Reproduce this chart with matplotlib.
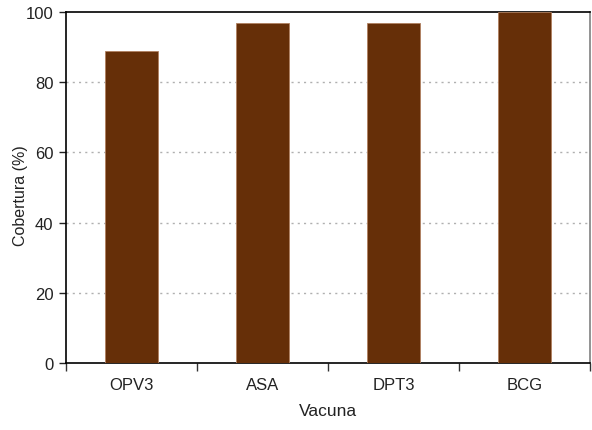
import matplotlib
matplotlib.use("Agg")
import matplotlib.pyplot as plt
from matplotlib import font_manager

categories = ["OPV3", "ASA", "DPT3", "BCG"]
values = [89, 97, 97, 100]
yticks = [0, 20, 40, 60, 80, 100]

names = {f.name for f in font_manager.fontManager.ttflist}
fam = "Liberation Sans Narrow" if "Liberation Sans Narrow" in names else "Liberation Sans"
plt.rcParams['font.family'] = [fam, 'DejaVu Sans']

fig = plt.figure(figsize=(5.92, 4.31), dpi=100)
ax = fig.add_axes([66/592, 1-364/431, (590-66)/592, (364-13)/431])

x = list(range(len(categories)))
ax.bar(x, values, width=0.4, color="#662f08", edgecolor="#b08060", linewidth=0.6, zorder=3)

ax.set_xlim(-0.5, len(categories)-0.5)
ax.set_ylim(0, 100)
ax.set_yticks(yticks)
ax.set_yticklabels([str(v) for v in yticks], fontsize=12, color="#222222")
ax.set_xticks(x)
ax.set_xticklabels(categories, fontsize=12, color="#222222")
ax.tick_params(axis='x', length=0, pad=10)
ax.set_xticks([i - 0.5 for i in range(len(categories) + 1)], minor=True)
ax.tick_params(axis='x', which='minor', length=6, width=1, direction='out', color='#333333')
ax.tick_params(axis='y', length=5, width=1, direction='out', color='#222222', pad=4)

for y in yticks[1:-1]:
    ax.axhline(y, color="#b0b0b0", linestyle=(0, (1.5, 3)), linewidth=1, zorder=1)

for s in ['left', 'bottom', 'top']:
    ax.spines[s].set_color('black')
    ax.spines[s].set_linewidth(1.2)
ax.spines['right'].set_color('#808080')
ax.spines['right'].set_linewidth(1.2)

ax.set_xlabel("Vacuna", fontsize=12.5, color="#222222", labelpad=8)
ax.set_ylabel("Cobertura (%)", fontsize=11.5, color="#222222")
ax.yaxis.set_label_coords(-0.072, 0.48)

fig.savefig("out.png", dpi=100)
